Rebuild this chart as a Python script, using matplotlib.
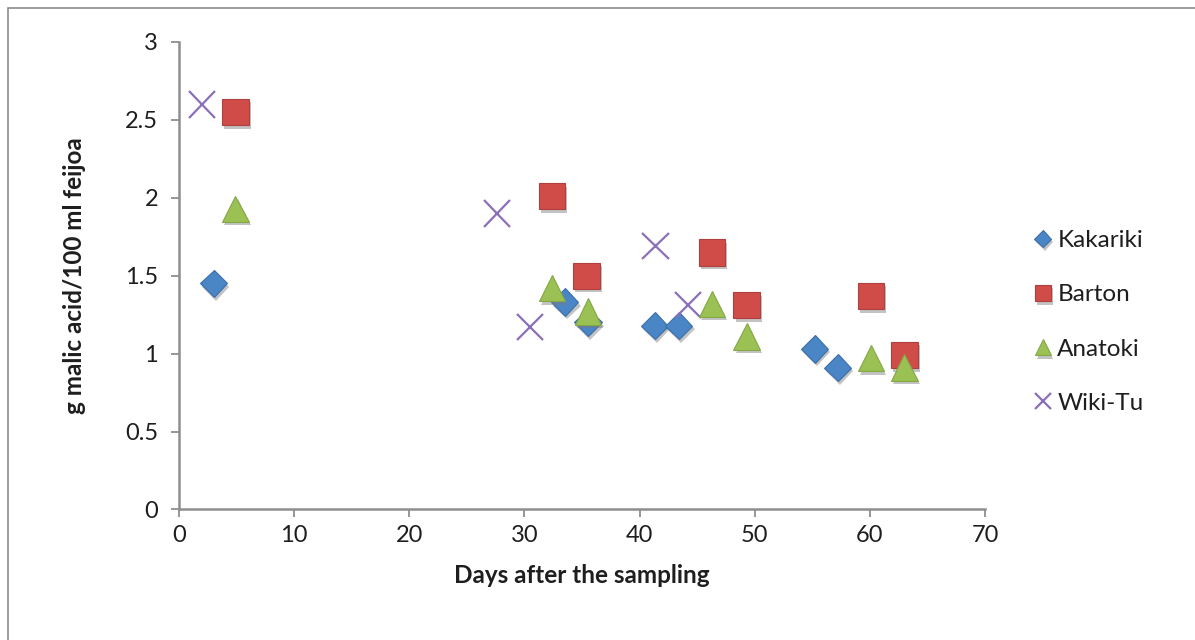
import matplotlib
matplotlib.use("Agg")
import matplotlib.pyplot as plt
import matplotlib.patheffects as pe
from matplotlib.patches import Rectangle

plt.rcParams['font.family'] = ['Lato', 'DejaVu Sans']

# Days after sampling and titratable acidity (g malic acid / 100 ml) per cultivar
kakariki_days = [3.0, 33.5, 35.5, 41.3, 43.4, 55.2, 57.2]
kakariki_acid = [1.45, 1.33, 1.20, 1.18, 1.18, 1.03, 0.91]

barton_days = [4.9, 32.4, 35.4, 46.3, 49.3, 60.1, 63.0]
barton_acid = [2.55, 2.01, 1.50, 1.65, 1.31, 1.37, 0.99]

anatoki_days = [4.9, 32.4, 35.5, 46.3, 49.3, 60.1, 63.0]
anatoki_acid = [1.93, 1.42, 1.27, 1.32, 1.11, 0.97, 0.91]

wikitu_days = [2.0, 27.6, 30.5, 41.4, 44.2]
wikitu_acid = [2.60, 1.90, 1.17, 1.69, 1.31]

x_ticks = [0, 10, 20, 30, 40, 50, 60, 70]
y_ticks = [0, 0.5, 1, 1.5, 2, 2.5, 3]
y_tick_labels = ["0", "0.5", "1", "1.5", "2", "2.5", "3"]

W, H = 1195, 640
fig = plt.figure(figsize=(W / 100, H / 100), dpi=100)
fig.patch.set_facecolor("white")

# chart area outline
fig.add_artist(Rectangle((8 / W, -0.1), 1.2, 1 - 8 / H + 0.1, transform=fig.transFigure,
                         fill=False, edgecolor="#8c8c8c", linewidth=1.2))

ax = fig.add_axes([179 / W, (H - 509.4) / H, (985 - 179) / W, (509.4 - 42) / H])

shadow = [pe.SimplePatchShadow(offset=(1.5, -2.5), shadow_rgbFace="#7a7a7a", alpha=0.45),
          pe.Normal()]

ax.plot(kakariki_days, kakariki_acid, linestyle="none", marker="D", markersize=14,
        markerfacecolor="#4a85c6", markeredgecolor="#3c6fa8", markeredgewidth=0.8,
        label="Kakariki", path_effects=shadow, zorder=3)
ax.plot(barton_days, barton_acid, linestyle="none", marker="s", markersize=19,
        markerfacecolor="#cf4c49", markeredgecolor="#b0403d", markeredgewidth=0.8,
        label="Barton", path_effects=shadow, zorder=3)
ax.plot(anatoki_days, anatoki_acid, linestyle="none", marker="^", markersize=19,
        markerfacecolor="#9bc053", markeredgecolor="#84a845", markeredgewidth=0.8,
        label="Anatoki", path_effects=shadow, zorder=4)
ax.plot(wikitu_days, wikitu_acid, linestyle="none", marker="x", markersize=19,
        markeredgecolor="#8a70b8", markeredgewidth=1.6,
        label="Wiki-Tu", path_effects=shadow, zorder=3)

ax.set_xlim(0, 70)
ax.set_ylim(0, 3)
ax.set_xticks(x_ticks)
ax.set_yticks(y_ticks)
ax.set_yticklabels(y_tick_labels)

axis_grey = "#8e8e8e"
for side in ("top", "right"):
    ax.spines[side].set_visible(False)
for side in ("left", "bottom"):
    ax.spines[side].set_color(axis_grey)
    ax.spines[side].set_linewidth(1.8)
ax.tick_params(axis="both", colors=axis_grey, labelcolor="#1e1e1e", labelsize=17,
               width=1.3, length=6, direction="out")
ax.tick_params(axis="x", pad=5)
ax.tick_params(axis="y", pad=9)
ax.set_facecolor("none")

ax.set_xlabel("Days after the sampling", fontsize=17.5, fontweight="bold", color="#1e1e1e",
              labelpad=13)
ax.set_ylabel("g malic acid/100 ml feijoa", fontsize=17.5, fontweight="bold", color="#1e1e1e",
              labelpad=28)

leg = fig.legend(loc="center left", bbox_to_anchor=(1010 / W, 1 - 322 / H),
                 frameon=False, fontsize=17.5, markerscale=0.62, handlelength=0.9,
                 handletextpad=0.15, labelspacing=1.36)
for txt in leg.get_texts():
    txt.set_color("#1e1e1e")

fig.savefig("out.png", dpi=100, facecolor="white")
